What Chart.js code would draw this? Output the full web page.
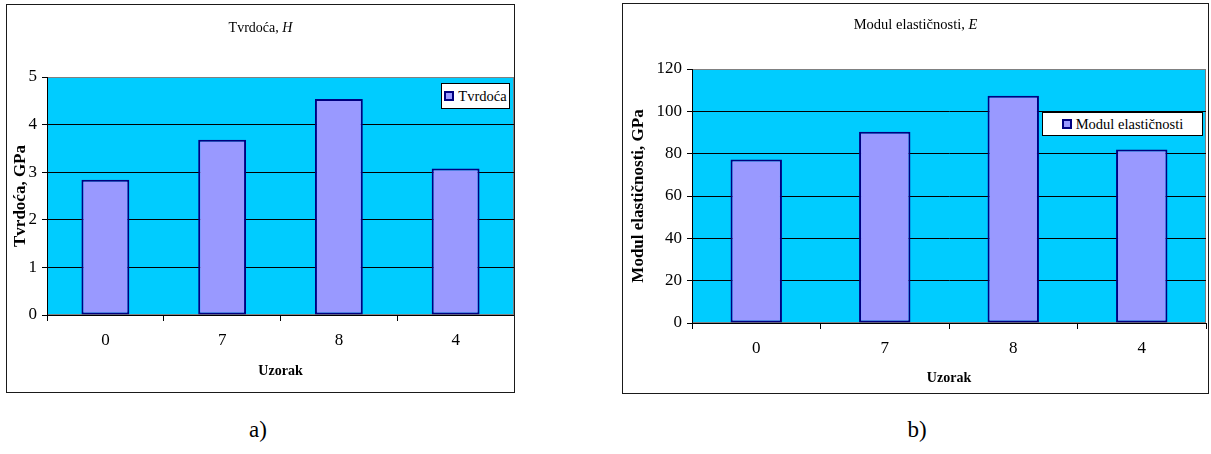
<!DOCTYPE html>
<html>
<head>
<meta charset="utf-8">
<script src="https://cdn.jsdelivr.net/npm/chart.js@4.4.1/dist/chart.umd.min.js"></script>
<style>
  body { margin: 0; background: #fff; width: 1211px; height: 454px; position: relative; overflow: hidden; font-family: 'Liberation Serif', 'Times New Roman', serif; }
  .frame { position: absolute; box-sizing: border-box; border: 1px solid #1a1a1a; background: #fff; }
  .frame canvas { display: block; }
  .legend { position: absolute; box-sizing: border-box; background: #fff; border: 1px solid #000; font-size: 14.5px; color: #000; display: flex; align-items: center; justify-content: center; white-space: nowrap; }
  .legend i { display: inline-block; width: 6px; height: 6px; background: #9999ff; border: 2px solid #000080; margin-right: 4px; }
  .cap { position: absolute; top: 417px; font-size: 23px; width: 60px; text-align: center; }
</style>
</head>
<body>
<div class="frame" id="frameH" style="left:6px; top:4px; width:509px; height:389px;">
  <canvas id="chartH"></canvas>
  <div class="legend" style="left:434px; top:78px; width:69px; height:26px;"><i></i>Tvrdoća</div>
</div>
<div class="frame" id="frameE" style="left:622px; top:3px; width:587px; height:391px;">
  <canvas id="chartE"></canvas>
  <div class="legend" style="left:419px; top:108px; width:161px; height:24px;"><i></i>Modul elastičnosti</div>
</div>
<div class="cap" style="left:228px;">a)</div>
<div class="cap" style="left:887px;">b)</div>

<script>
// data
const samples = ['0', '7', '8', '4'];
const hardness = [2.84, 3.68, 4.54, 3.08];        // H, GPa
const modulus = [77.2, 90.4, 107.4, 82.0];        // E, GPa
const hardnessTicks = [0, 1, 2, 3, 4, 5];
const modulusTicks = [0, 20, 40, 60, 80, 100, 120];

const serif = "'Liberation Serif', 'Times New Roman', serif";

// cyan plot area with grey edge, like the old Excel charts
const plotBg = {
    id: 'plotBg',
    beforeDraw(chart) {
        const a = chart.chartArea;
        const ctx = chart.ctx;
        ctx.save();
        ctx.fillStyle = '#00ccff';
        ctx.fillRect(a.left, a.top, a.right - a.left, a.bottom - a.top);
        ctx.strokeStyle = '#808080';
        ctx.lineWidth = 1;
        ctx.strokeRect(a.left + 0.5, a.top + 0.5, a.right - a.left - 1, a.bottom - a.top - 1);
        ctx.restore();
    }
};

// title with an italic symbol at the end
const mixedTitle = {
    id: 'mixedTitle',
    afterDraw(chart, args, opts) {
        const ctx = chart.ctx;
        ctx.save();
        ctx.textBaseline = 'middle';
        ctx.fillStyle = '#000';
        const plain = opts.size + 'px ' + serif, ital = 'italic ' + opts.size + 'px ' + serif;
        ctx.font = plain;
        const w1 = ctx.measureText(opts.text).width;
        ctx.font = ital;
        const w2 = ctx.measureText(opts.symbol).width;
        const x0 = chart.width / 2 - (w1 + w2) / 2;
        ctx.font = plain;
        ctx.fillText(opts.text, x0, opts.y);
        ctx.font = ital;
        ctx.fillText(opts.symbol, x0 + w1, opts.y);
        ctx.restore();
    }
};

function makeChart(id, size, values, ticks, cfg) {
    const canvas = document.getElementById(id);
    canvas.width = size[0];
    canvas.height = size[1];
    const top = ticks[ticks.length - 1];
    return new Chart(canvas, {
        type: 'bar',
        data: {
            labels: samples,
            datasets: [{
                data: values,
                backgroundColor: '#9999ff',
                borderColor: '#000080',
                borderWidth: 2,
                borderSkipped: false,
                barPercentage: cfg.barPct,
                categoryPercentage: 1
            }]
        },
        options: {
            responsive: false,
            animation: false,
            events: [],
            layout: { padding: { top: cfg.plotTop, right: cfg.padRight, left: 0, bottom: 0 } },
            plugins: {
                legend: { display: false },
                tooltip: { enabled: false },
                mixedTitle: { text: cfg.title, symbol: cfg.symbol, y: cfg.titleY, size: cfg.titleSize }
            },
            scales: {
                x: {
                    afterFit: s => { s.height = cfg.xHeight; },
                    grid: { drawOnChartArea: false, drawTicks: true, tickLength: 6, color: '#000', offset: true },
                    border: { color: '#000', width: 1 },
                    ticks: { font: { family: serif, size: 17 }, color: '#000', padding: cfg.xPad },
                    title: {
                        display: true, text: 'Uzorak', color: '#000',
                        font: { family: serif, size: 14, weight: 'bold' },
                        padding: { top: 0, bottom: cfg.xTitlePad }
                    }
                },
                y: {
                    min: ticks[0],
                    max: top,
                    afterFit: s => { s.width = cfg.yWidth; },
                    afterBuildTicks: s => { s.ticks = ticks.map(v => ({ value: v })); },
                    grid: {
                        color: c => (c.tick && c.tick.value === top ? '#808080' : '#000'),
                        tickColor: '#000',
                        tickLength: 5
                    },
                    border: { color: '#000', width: 1 },
                    ticks: { font: { family: serif, size: 17 }, color: '#000', padding: cfg.yPad },
                    title: {
                        display: true, text: cfg.yTitle, color: '#000',
                        font: { family: serif, size: cfg.yTitleSize, weight: 'bold' },
                        padding: { top: cfg.yTitlePad, bottom: 0 }
                    }
                }
            }
        },
        plugins: [plotBg, mixedTitle]
    });
}

makeChart('chartH', [507, 387], hardness, hardnessTicks, {
    title: 'Tvrdoća, ', symbol: 'H', titleY: 23, titleSize: 14,
    yTitle: 'Tvrdoća, GPa', yTitleSize: 17,
    barPct: 0.41, plotTop: 72, padRight: 0,
    xHeight: 77, xPad: 9, xTitlePad: 12,
    yWidth: 40, yPad: 5, yTitlePad: 3
});

makeChart('chartE', [585, 389], modulus, modulusTicks, {
    title: 'Modul elastičnosti, ', symbol: 'E', titleY: 21, titleSize: 14.5,
    yTitle: 'Modul elastičnosti, GPa', yTitleSize: 17,
    barPct: 0.40, plotTop: 65, padRight: 2,
    xHeight: 70, xPad: 9, xTitlePad: 6,
    yWidth: 69, yPad: 5, yTitlePad: 5
});
</script>
</body>
</html>
